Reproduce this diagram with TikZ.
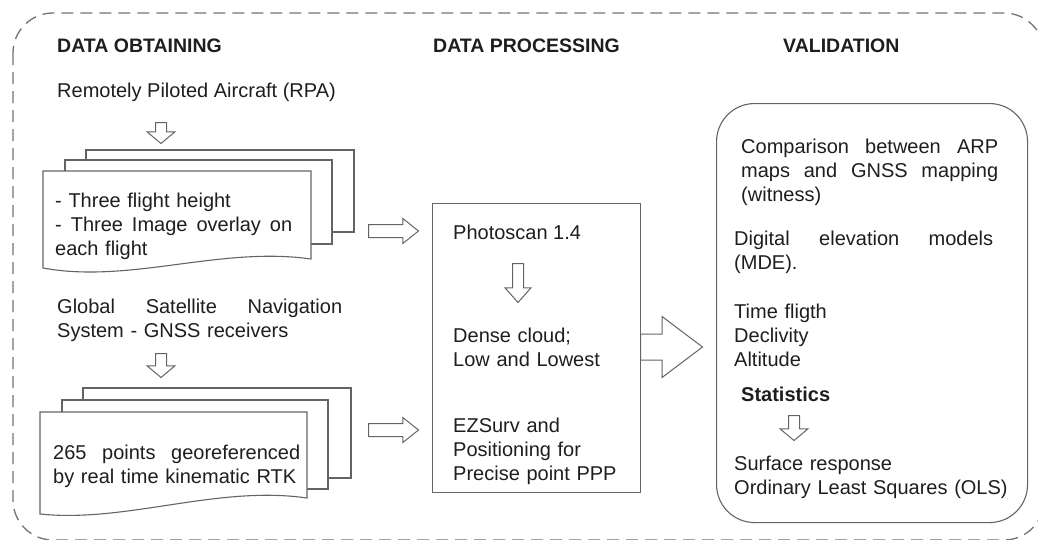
\documentclass[tikz,border=0pt]{standalone}
\usepackage{fontspec}
\setmainfont{Liberation Sans}
\usetikzlibrary{shapes.arrows}
\definecolor{ink}{RGB}{30,30,30}
\definecolor{edge}{RGB}{100,100,100}
\definecolor{frame}{RGB}{115,115,115}
\newcommand{\jline}[2]{\leavevmode\hbox to #1{#2}}

\begin{document}
\begin{tikzpicture}[x=1pt,y=-1pt,
  hd/.style={anchor=base west,inner sep=0pt,text=ink,font=\fontsize{19.5}{22}\selectfont\bfseries},
  tx/.style={anchor=base west,inner sep=0pt,text=ink,align=left,font=\fontsize{20}{24}\selectfont},
  sh/.style={draw=edge,fill=white,line width=1.1pt},
  bx/.style={draw=edge,line width=1.1pt,inner sep=0pt,anchor=north west},
  ar/.style={single arrow,draw=edge,fill=white,line width=1pt,inner xsep=0pt,inner ysep=5pt,anchor=tail,
             minimum width=27pt,single arrow head extend=8.5pt,single arrow tip angle=100},
  rar/.style={ar,inner ysep=6pt,minimum width=24pt,minimum height=50pt,single arrow head extend=6pt,single arrow tip angle=77}]
  \useasboundingbox (0,0) rectangle (1038,539);
  \draw[frame,line width=1.3pt,dash pattern=on 12pt off 7pt,rounded corners=40pt] (13,13) rectangle (1044,540);

  % headers
  \node[hd] (h1) at (57,52) {DATA OBTAINING};
  \node[hd] (h2) at (433,52) {DATA PROCESSING};
  \node[hd] (h3) at (783,52) {VALIDATION};

  % data obtaining
  \node[tx] (rpa) at (57,97) {Remotely Piloted Aircraft (RPA)};
  \node[ar,rotate=-90,minimum height=21pt] (d1) at (161,122) {};
  \draw[sh] (86,150) rectangle (354,232);
  \draw[sh] (65,160) rectangle (332,244);
  \draw[sh] (43,171) -- (311,171) -- (311,259) .. controls (220,246) and (130,284) .. (43,268) -- cycle;
  \node[tx,text width=237pt] (fl) at (55,207) {- Three flight height\\\jline{237pt}{-\hfill Three\hfill Image\hfill overlay\hfill on}\\each flight};
  \node[rar] (r1) at (368,231) {};

  \node[tx,text width=285pt] (gnss) at (57,313) {\jline{285pt}{Global\hfill Satellite\hfill Navigation}\\System - GNSS receivers};
  \node[ar,rotate=-90,minimum height=24pt] (d2) at (161,353) {};
  \draw[sh] (83,388) rectangle (351,478);
  \draw[sh] (62,400) rectangle (328,489);
  \draw[sh] (40,412) -- (307,412) -- (307,498) .. controls (217,485) and (127,523) .. (40,514) -- cycle;
  \node[tx,text width=247pt] (rtk) at (53,459) {\jline{247pt}{265\hfill points\hfill georeferenced}\\by real time kinematic RTK};
  \node[rar] (r2) at (368,430) {};

  % data processing
  \node[bx,minimum width=208pt,minimum height=289pt] (proc) at (432,203) {};
  \node[tx] (ps) at (453,239) {Photoscan 1.4};
  \node[ar,rotate=-90,minimum height=39pt,minimum width=25pt,single arrow head extend=7.5pt,single arrow tip angle=83] (d3) at (518,263) {};
  \node[tx,text width=180pt] (dc) at (453,342) {Dense cloud;\\Low and Lowest};
  \node[tx,text width=180pt] (ez) at (453,432) {EZSurv and\\Positioning for\\Precise point PPP};

  % validation
  \node[bx,rounded corners=38pt,minimum width=311pt,minimum height=419pt] (valid) at (716,103) {};
  \node[ar,inner ysep=12.5pt,minimum height=62pt,minimum width=60pt,single arrow head extend=17.5pt,single arrow tip angle=74] (big) at (640,347) {};
  \node[tx,text width=257pt] (cmp) at (741,153) {\jline{257pt}{Comparison\hfill between\hfill ARP}\\\jline{257pt}{maps\hfill and\hfill GNSS\hfill mapping}\\(witness)};
  \node[tx,text width=259pt] (dem) at (734,245) {\jline{259pt}{Digital\hfill elevation\hfill models}\\(MDE).};
  \node[tx,text width=200pt] (var) at (734,318) {Time fligth\\Declivity\\Altitude};
  \node[tx,font=\fontsize{20}{24}\selectfont\bfseries] (st) at (741,401) {Statistics};
  \node[ar,rotate=-90,minimum height=25pt] (d4) at (794,415) {};
  \node[tx,text width=280pt] (ols) at (734,470) {Surface response\\Ordinary Least Squares (OLS)};
\end{tikzpicture}
\end{document}
